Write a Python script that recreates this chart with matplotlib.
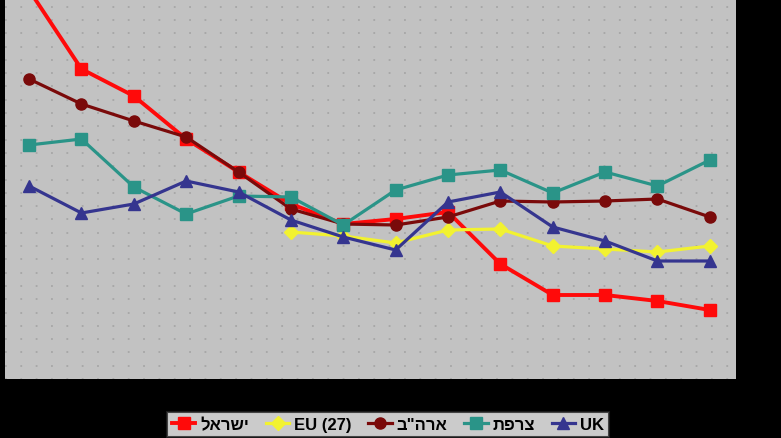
import matplotlib
matplotlib.use("Agg")
import matplotlib.pyplot as plt
import numpy as np

# values (arbitrary index units, no axis labels shown)
israel = [38.9, 31.0, 28.3, 24.0, 20.7, 17.5, 15.5, 16.0, 16.7, 11.5, 8.4, 8.4, 7.8, 6.9]
eu27 = [None, None, None, None, None, 14.7, 14.3, 13.6, 14.9, 15.0, 13.3, 13.0, 12.7, 13.3]
usa = [30.0, 27.5, 25.8, 24.2, 20.7, 17.0, 15.5, 15.4, 16.2, 17.8, 17.7, 17.8, 18.0, 16.2]
france = [23.4, 24.0, 19.2, 16.5, 18.3, 18.2, 15.4, 18.9, 20.4, 20.9, 18.6, 20.7, 19.3, 21.9]
uk = [19.3, 16.6, 17.5, 19.8, 18.7, 15.9, 14.2, 12.9, 17.7, 18.7, 15.2, 13.8, 11.8, 11.8]

labels = ["ישראל", "EU (27)", 'ארה"ב', "צרפת", "UK"]


def visual(s):
    # matplotlib has no bidi support: reverse Hebrew so it reads right-to-left
    if any("\u0590" <= ch <= "\u05ff" for ch in s):
        return s[::-1]
    return s


series = [
    (israel, "#ff0a0a", "s", 2.8, 9),
    (eu27, "#f2f230", "D", 2.3, 7),
    (usa, "#7a0a0a", "o", 2.3, 8),
    (france, "#2a9488", "s", 2.3, 8),
    (uk, "#35358f", "^", 2.3, 8),
]

fig = plt.figure(figsize=(7.81, 4.39), dpi=100)
fig.patch.set_facecolor("black")
ax = fig.add_axes([5 / 781, 59 / 439, 731 / 781, 380 / 439])
ax.set_facecolor("#c2c2c2")

x = np.arange(len(israel))
handles = []
for vals, color, marker, lw, ms in series:
    y = np.array([np.nan if v is None else v for v in vals], dtype=float)
    h, = ax.plot(x, y, color=color, marker=marker, lw=lw, ms=ms,
                 markeredgecolor=color, zorder=3)
    handles.append(h)

ax.set_xlim(-0.46, 13.5)
ax.set_ylim(0, 38)
ax.set_yticks(np.arange(0, 38, 1.33))
ax.grid(axis="y", color="#a6a6a6", lw=1.3, linestyle=(0, (1, 7.5)))
ax.set_xticks([])
ax.tick_params(left=False, labelleft=False)
for s in ax.spines.values():
    s.set_visible(False)

leg = fig.legend(handles, [visual(t) for t in labels], ncol=5,
                 loc="upper left", bbox_to_anchor=(167 / 781, 1 - 413 / 439),
                 frameon=True, fancybox=False, handlelength=1.4,
                 handletextpad=0.3, columnspacing=1.0, borderpad=0.3,
                 borderaxespad=0,
                 prop={"family": ["Liberation Sans", "DejaVu Sans"],
                       "weight": "bold", "size": 12})
leg.get_frame().set_facecolor("white")
leg.get_frame().set_edgecolor("#222222")
leg.get_frame().set_linewidth(1.5)

fig.savefig("out.png", dpi=100, facecolor="black")
